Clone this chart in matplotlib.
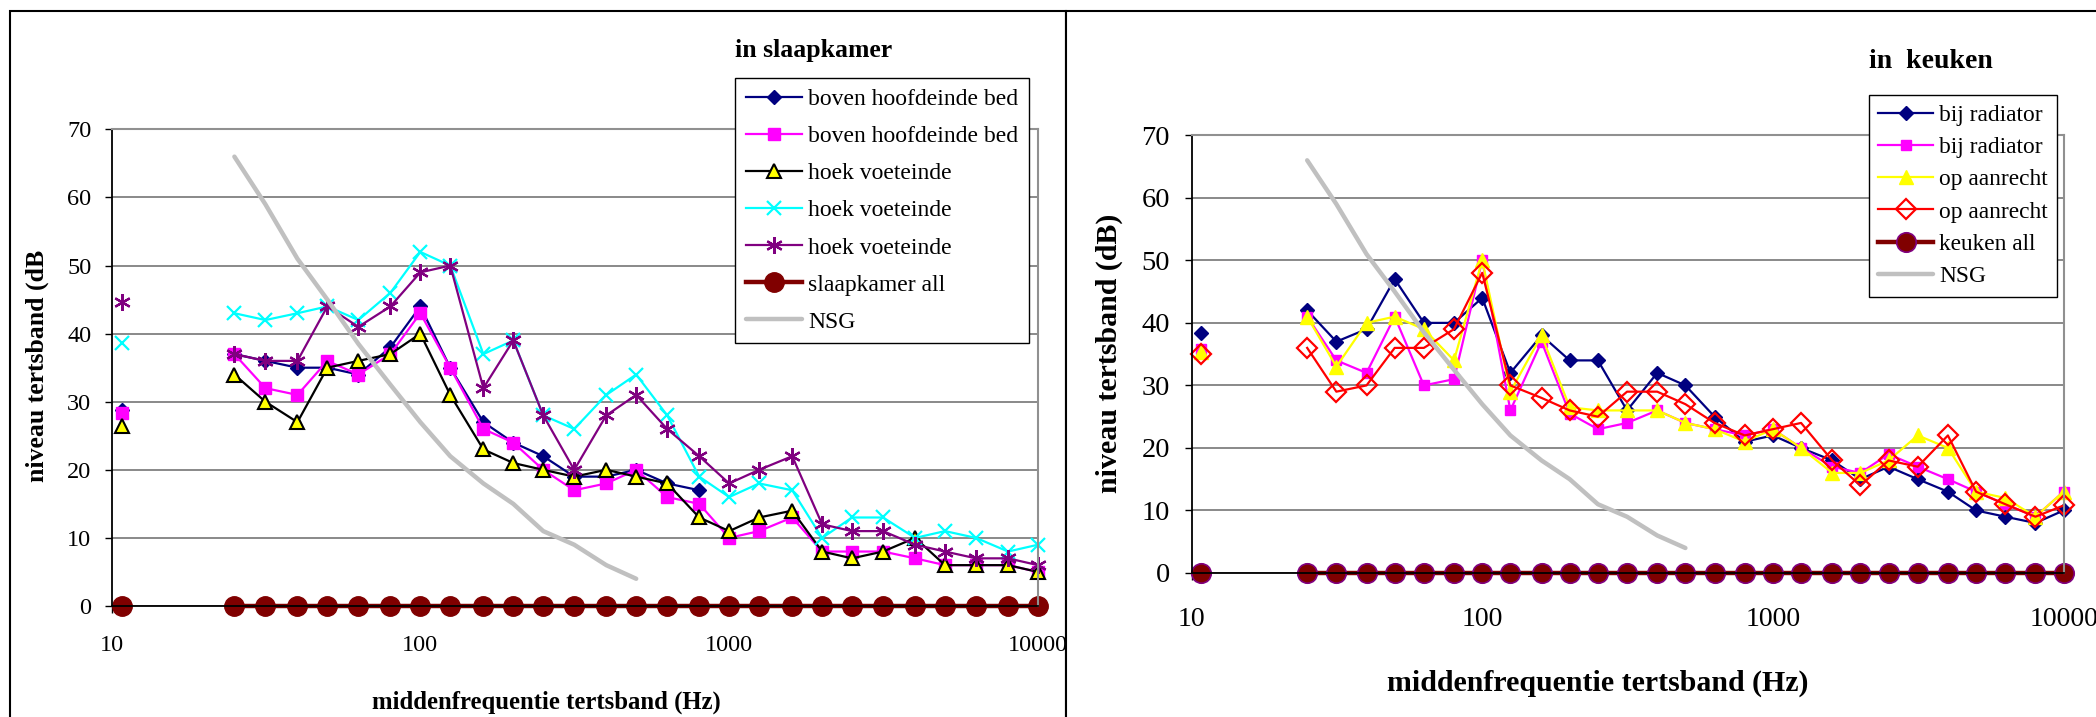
import numpy as np
import matplotlib
matplotlib.use('Agg')
import matplotlib.pyplot as plt
from matplotlib.patches import Rectangle

plt.rcParams['font.family'] = ['Liberation Serif', 'DejaVu Serif']

# ---------------- data ----------------
# first entry = overall value (plotted isolated near 11 Hz), then third-octave bands 25 Hz .. 10 kHz
freq = [10.8, 25, 31.5, 40, 50, 63, 80, 100, 125, 160, 200, 250, 315, 400, 500, 630,
        800, 1000, 1250, 1600, 2000, 2500, 3150, 4000, 5000, 6300, 8000, 10000]
x_ticks = [10, 100, 1000, 10000]
x_ticklabels = ['10', '100', '1000', '10000']
y_ticks = [0, 10, 20, 30, 40, 50, 60, 70]

nsg_freq = [25, 31.5, 40, 50, 63, 80, 100, 125, 160, 200, 250, 315, 400, 500]
nsg_level = [66, 59, 51, 45, 38.5, 32.5, 27, 22, 18, 15, 11, 9, 6, 4]

# slaapkamer
slaap_boven_1 = [28.8, 37, 36, 35, 35, 34, 38, 44, 35, 27, 24, 22, 19, 19, 20, 18, 17,
                 None, None, None, None, None, None, None, None, None, None, None]
slaap_boven_2 = [28.4, 37, 32, 31, 36, 34, 37, 43, 35, 26, 24, 20, 17, 18, 20, 16, 15,
                 10, 11, 13, 8, 8, 8, 7, 6, 6, 6, 5]
slaap_hoek_1 = [26.4, 34, 30, 27, 35, 36, 37, 40, 31, 23, 21, 20, 19, 20, 19, 18, 13,
                11, 13, 14, 8, 7, 8, 10, 6, 6, 6, 5]
slaap_hoek_2 = [38.7, 43, 42, 43, 44, 42, 46, 52, 50, 37, 39, 28, 26, 31, 34, 28, 19,
                16, 18, 17, 10, 13, 13, 10, 11, 10, 8, 9]
slaap_hoek_3 = [44.6, 37, 36, 36, 44, 41, 44, 49, 50, 32, 39, 28, 20, 28, 31, 26, 22,
                18, 20, 22, 12, 11, 11, 9, 8, 7, 7, 6]
slaap_all = [0, 0, 0, 0, 0, 0, 0, 0, 0, 0, 0, 0, 0, 0, 0, 0, 0, 0, 0, 0, 0, 0, 0, 0, 0, 0, 0, 0]

# keuken
keuken_rad_1 = [38.4, 42, 37, 39, 47, 40, 40, 44, 32, 38, 34, 34, 26, 32, 30, 25, 21,
                22, 20, 18, 15, 17, 15, 13, 10, 9, 8, 10]
keuken_rad_2 = [35.8, 41, 34, 32, 41, 30, 31, 50, 26, 37, 25.5, 23, 24, 26, 24, 23, 22,
                23, 20, 17, 16, 19, 17, 15, 13, 11, 9, 13]
keuken_aan_1 = [35.4, 41, 33, 40, 41, 39, 34, 50, 29, 38, 26.5, 26, 26, 26, 24, 23, 21,
                23, 20, 16, 16, 18, 22, 20, 13, 12, 9, 13]
keuken_aan_2 = [35.1, 36, 29, 30, 36, 36, 39, 48, 30, 28, 26, 25, 29, 29, 27, 24, 22,
                23, 24, 18, 14, 18, 17, 22, 13, 11, 9, 10.8]
keuken_all = [0, 0, 0, 0, 0, 0, 0, 0, 0, 0, 0, 0, 0, 0, 0, 0, 0, 0, 0, 0, 0, 0, 0, 0, 0, 0, 0, 0]

slaap_labels = ['boven hoofdeinde bed', 'boven hoofdeinde bed', 'hoek voeteinde',
                'hoek voeteinde', 'hoek voeteinde', 'slaapkamer all', 'NSG']
keuken_labels = ['bij radiator', 'bij radiator', 'op aanrecht', 'op aanrecht',
                 'keuken all', 'NSG']

# ---------------- figure ----------------
W, H = 2096, 717
fig = plt.figure(figsize=(W / 100, H / 100), dpi=100)
fig.patch.set_facecolor('white')


def add_ax(x0, x1, ytop, ybot):
    return fig.add_axes([x0 / W, 1 - ybot / H, (x1 - x0) / W, (ybot - ytop) / H])


ax1 = add_ax(111.5, 1038, 129.4, 606)
ax2 = add_ax(1191.5, 2063.6, 135.3, 573)
ax1.set_zorder(0)
ax2.set_zorder(1)


def series(ax, values, label, **kw):
    v = np.array([np.nan if a is None else a for a in values], dtype=float)
    f = np.array(freq, dtype=float)
    line, = ax.plot(f[1:], v[1:], label=label, clip_on=False, **kw)
    kw2 = dict(kw)
    kw2['linestyle'] = 'none'
    ax.plot(f[:1], v[:1], clip_on=False, **kw2)
    return line


def style_axes(ax, tick_x_size, tick_y_size, xpad, ypad):
    ax.set_xscale('log')
    ax.set_xlim(10, 10000)
    ax.set_ylim(0, 70)
    ax.set_xticks(x_ticks)
    ax.set_xticklabels(x_ticklabels)
    ax.minorticks_off()
    ax.set_yticks(y_ticks)
    ax.yaxis.grid(True, color='#808080', linewidth=1.3)
    ax.set_axisbelow(True)
    for s in ['left', 'bottom']:
        ax.spines[s].set_color('black')
        ax.spines[s].set_linewidth(1.3)
    for s in ['top', 'right']:
        ax.spines[s].set_color('#909090')
        ax.spines[s].set_linewidth(1.5)
    ax.tick_params(axis='x', direction='out', length=5, width=1, pad=xpad,
                   labelsize=tick_x_size)
    ax.tick_params(axis='y', direction='out', length=5, width=1, pad=ypad,
                   labelsize=tick_y_size)


style_axes(ax1, 17.5, 17.5, 16, 9.5)
style_axes(ax2, 20, 20.5, 19.5, 10.5)

# ---- left: slaapkamer ----
h = []
h.append(series(ax1, slaap_boven_1, slaap_labels[0], color='#000080', lw=1.6,
                marker='D', ms=7, mfc='#000080', mec='#000080'))
h.append(series(ax1, slaap_boven_2, slaap_labels[1], color='#FF00FF', lw=1.6,
                marker='s', ms=8.5, mfc='#FF00FF', mec='#FF00FF'))
h.append(series(ax1, slaap_hoek_1, slaap_labels[2], color='black', lw=1.6,
                marker='^', ms=10, mfc='#FFFF00', mec='black', mew=1.5))
h.append(series(ax1, slaap_hoek_2, slaap_labels[3], color='#00FFFF', lw=1.6,
                marker='x', ms=10, mec='#00FFFF', mew=1.6))
h.append(series(ax1, slaap_hoek_3, slaap_labels[4], color='#800080', lw=1.6,
                marker=(6, 2, 0), ms=12, mec='#800080', mew=1.6))
h.append(series(ax1, slaap_all, slaap_labels[5], color='#800000', lw=3.2,
                marker='o', ms=14, mfc='#800000', mec='#800000'))
l, = ax1.plot(nsg_freq, nsg_level, color='#C0C0C0', lw=3.2, label=slaap_labels[6],
              solid_capstyle='round')
h.append(l)

leg1 = ax1.legend(handles=h, loc='upper left', bbox_to_anchor=(0.673, 1.108),
                  borderaxespad=0, frameon=True, fancybox=False, framealpha=1,
                  edgecolor='black', fontsize=17, handlelength=2.4,
                  handletextpad=0.25, labelspacing=0.66, borderpad=0.45)
leg1.get_frame().set_linewidth(1.0)

ax1.set_ylabel('niveau tertsband (dB', fontsize=18.5, fontweight='bold')
ax1.yaxis.set_label_coords(-0.0799, 0.5046)
ax1.yaxis.label.set_va('center')
ax1.set_xlabel('middenfrequentie tertsband (Hz)', fontsize=17.8, fontweight='bold')
ax1.xaxis.set_label_coords(0.469, -0.2014)
ax1.xaxis.label.set_va('center')

# ---- right: keuken ----
h = []
h.append(series(ax2, keuken_rad_1, keuken_labels[0], color='#000080', lw=1.6,
                marker='D', ms=7, mfc='#000080', mec='#000080'))
h.append(series(ax2, keuken_rad_2, keuken_labels[1], color='#FF00FF', lw=1.6,
                marker='s', ms=7.5, mfc='#FF00FF', mec='#FF00FF'))
h.append(series(ax2, keuken_aan_1, keuken_labels[2], color='#FFFF00', lw=1.6,
                marker='^', ms=9.5, mfc='#FFFF00', mec='#FFFF00'))
h.append(series(ax2, keuken_aan_2, keuken_labels[3], color='#FF0000', lw=1.6,
                marker='D', ms=10, mfc='none', mec='#FF0000', mew=1.6))
h.append(series(ax2, keuken_all, keuken_labels[4], color='#800000', lw=3.2,
                marker='o', ms=14, mfc='#800000', mec='#800080', mew=1.2))
l, = ax2.plot(nsg_freq, nsg_level, color='#C0C0C0', lw=3.2, label=keuken_labels[5],
              solid_capstyle='round')
h.append(l)

leg2 = ax2.legend(handles=h, loc='upper left', bbox_to_anchor=(0.777, 1.092),
                  borderaxespad=0, frameon=True, fancybox=False, framealpha=1,
                  edgecolor='black', fontsize=16.8, handlelength=2.35,
                  handletextpad=0.25, labelspacing=0.47, borderpad=0.4)
leg2.get_frame().set_linewidth(1.0)

ax2.set_ylabel('niveau tertsband (dB)', fontsize=21.5, fontweight='bold')
ax2.yaxis.set_label_coords(-0.0939, 0.5026)
ax2.yaxis.label.set_va('center')
ax2.set_xlabel('middenfrequentie tertsband (Hz)', fontsize=21.5, fontweight='bold')
ax2.xaxis.set_label_coords(0.466, -0.251)
ax2.xaxis.label.set_va('center')

# ---- titles ----
fig.text(814 / W, 1 - 50 / H, 'in slaapkamer', ha='center', va='center',
         fontsize=18.5, fontweight='bold')
fig.text(1931 / W, 1 - 61 / H, 'in  keuken', ha='center', va='center',
         fontsize=20, fontweight='bold')

# ---- panel frames ----
fig.add_artist(Rectangle((10 / W, -0.05), 1056 / W, 1.05 - 11 / H,
                         transform=fig.transFigure, fill=False, edgecolor='black',
                         linewidth=1.5, zorder=0.2))
fig.add_artist(Rectangle((1066 / W, -0.05), 1.1, 1.05 - 10.7 / H,
                         transform=fig.transFigure, facecolor='white',
                         edgecolor='black', linewidth=1.5, zorder=0.5))

fig.savefig('out.png', dpi=100)
